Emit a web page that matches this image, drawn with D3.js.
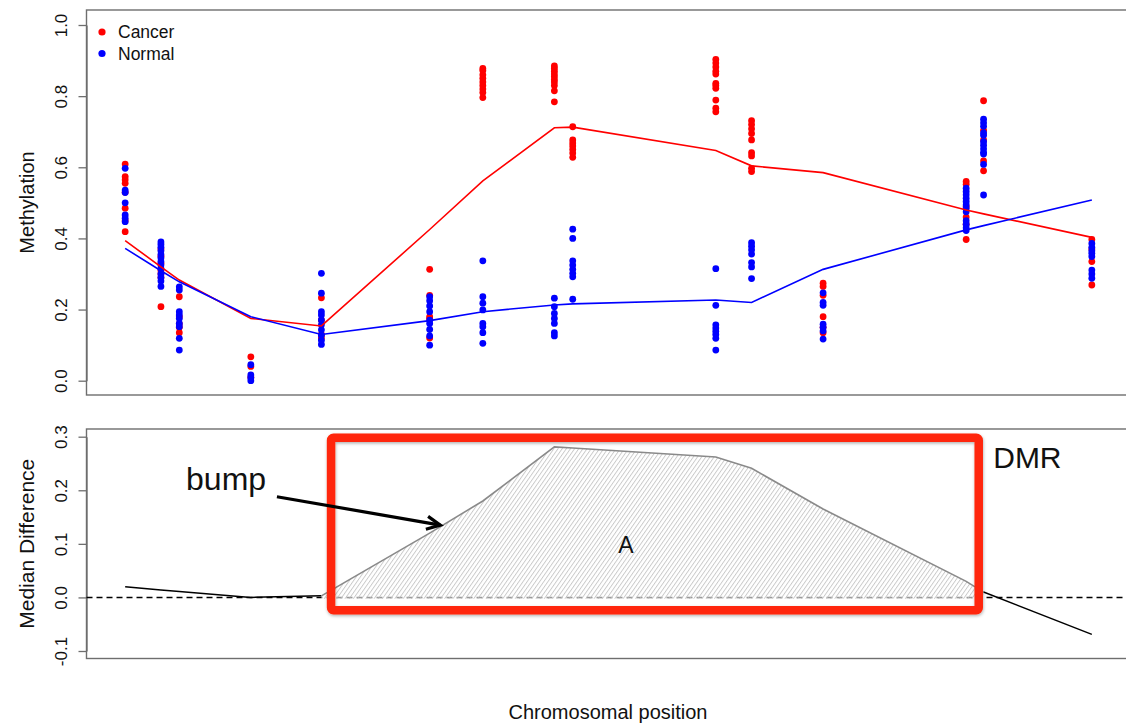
<!DOCTYPE html>
<html><head><meta charset="utf-8">
<script src="https://cdnjs.cloudflare.com/ajax/libs/d3/7.8.5/d3.min.js"></script>
<style>
html,body{margin:0;padding:0;background:#fff;}
svg{display:block;font-family:"Liberation Sans",Arial,Helvetica,sans-serif;}
</style></head><body><div id="chart"></div>
<script>
// probe positions along the chromosome (arbitrary units)
const positions=[0,37,56,130,203,315,370,444,463,611,648,722,870,888,1000];
// smoothed group medians
const cancerMedian=[0.394,0.32,0.283,0.175,0.154,0.425,0.562,0.711,0.713,0.647,0.604,0.585,0.48,0.469,0.403];
const normalMedian=[0.372,0.309,0.278,0.18,0.13,0.169,0.194,0.213,0.216,0.227,0.22,0.313,0.424,0.436,0.508];
// median difference (cancer - normal), bottom panel
const medianDiff=[0.02,0.014,0.011,0.0,0.003,0.12,0.18,0.281,0.279,0.262,0.241,0.165,0.03,0.01,-0.069];
// per-sample methylation at each probe
const cancerPoints=[
  [0.609,0.574,0.565,0.555,0.53,0.485,0.45,0.419],
  [0.37,0.35,0.33,0.31,0.30,0.29,0.208],
  [0.236,0.18,0.16,0.15,0.135],
  [0.067,0.04,0.01],
  [0.233,0.17,0.13,0.12],
  [0.313,0.24,0.18,0.175,0.12],
  [0.878,0.872,0.86,0.85,0.84,0.83,0.82,0.81,0.796],
  [0.885,0.878,0.87,0.862,0.855,0.847,0.84,0.83,0.815,0.784],
  [0.714,0.677,0.668,0.66,0.65,0.64,0.628],
  [0.903,0.893,0.882,0.87,0.862,0.836,0.83,0.822,0.789,0.766,0.756],
  [0.731,0.72,0.708,0.695,0.677,0.641,0.632,0.597,0.588],
  [0.274,0.265,0.24,0.18,0.15,0.135],
  [0.56,0.552,0.49,0.46,0.44,0.397],
  [0.787,0.704,0.677,0.618,0.59],
  [0.397,0.37,0.335,0.269]
];
const normalPoints=[
  [0.597,0.536,0.529,0.5,0.466,0.457,0.447],
  [0.39,0.383,0.375,0.365,0.355,0.345,0.335,0.325,0.315,0.30,0.29,0.28,0.265],
  [0.264,0.255,0.194,0.185,0.175,0.161,0.152,0.119,0.086],
  [0.045,0.016,0.008,0.0],
  [0.302,0.246,0.194,0.185,0.171,0.157,0.143,0.128,0.114,0.102],
  [0.236,0.225,0.21,0.194,0.17,0.161,0.144,0.126,0.1],
  [0.337,0.236,0.218,0.199,0.161,0.152,0.135,0.105],
  [0.232,0.208,0.189,0.175,0.161,0.135,0.126],
  [0.426,0.4,0.337,0.325,0.313,0.302,0.292,0.229],
  [0.315,0.212,0.157,0.148,0.139,0.13,0.119,0.086],
  [0.388,0.378,0.368,0.356,0.332,0.32,0.287],
  [0.247,0.22,0.212,0.159,0.15,0.14,0.117],
  [0.541,0.532,0.523,0.513,0.504,0.495,0.485,0.475,0.45,0.44,0.43,0.422],
  [0.735,0.725,0.715,0.697,0.69,0.672,0.662,0.652,0.642,0.637,0.608,0.522],
  [0.386,0.375,0.365,0.358,0.349,0.311,0.3,0.288]
];
const yTicksTop=[0,0.2,0.4,0.6,0.8,1.0];
const yTicksBottom=[-0.1,0,0.1,0.2,0.3];
const groups=['Cancer','Normal'];
const groupColors=['#ff0000','#0000ff'];
// annotation: DMR region (positions / median difference units)
const dmr={start:213,end:883,top:0.298,bottom:-0.024};
const bumpIdx=[4,13];

const W=1126,H=724;
const svg=d3.select('#chart').append('svg').attr('width',W).attr('height',H);
const defs=svg.append('defs');
const x=d3.scaleLinear().domain([-40,1040]).range([86.5,1130.5]);
const pTop={t:10,b:395},pBot={t:429,b:658.5};
const yT=d3.scaleLinear().domain([0,1]).range([380.7,25]);
const yB=d3.scaleLinear().domain([-0.1,0.3]).range([651,436.7]);

function frame(p){
  svg.append('rect').attr('x',x.range()[0]).attr('y',p.t).attr('width',x.range()[1]-x.range()[0]).attr('height',p.b-p.t)
    .attr('fill','none').attr('stroke','#6e6e6e').attr('stroke-width',1.4);
}
function yAxis(scale,ticks){
  const g=svg.append('g').attr('transform',`translate(${x.range()[0]},0)`)
    .call(d3.axisLeft(scale).tickValues(ticks).tickSize(8).tickSizeOuter(0).tickFormat(d=>d.toFixed(1)));
  g.selectAll('path,line').attr('stroke','#6e6e6e').attr('stroke-width',1.3);
  g.selectAll('text').attr('x',null).attr('dy',null).attr('text-anchor','middle')
    .attr('transform','translate(-20,0) rotate(-90)').attr('font-size',17).attr('fill','#111')
    .style('font-family','"Liberation Sans",Arial,sans-serif');
}
function yLabel(txt,p,size){
  svg.append('text').attr('transform',`translate(34,${(p.t+p.b)/2}) rotate(-90)`).attr('text-anchor','middle')
    .attr('font-size',size).attr('fill','#111').text(txt);
}

// ---- top panel
frame(pTop);yAxis(yT,yTicksTop);yLabel('Methylation',pTop,20);
[cancerPoints,normalPoints].forEach((pts,gi)=>{
  const flat=pts.flatMap((vals,i)=>vals.map(v=>({p:positions[i],v})));
  svg.append('g').selectAll('circle').data(flat).join('circle')
    .attr('cx',d=>x(d.p)).attr('cy',d=>yT(d.v)).attr('r',3.4).attr('fill',groupColors[gi]);
});
[cancerMedian,normalMedian].forEach((vals,gi)=>{
  svg.append('path').datum(vals).attr('fill','none').attr('stroke',groupColors[gi]).attr('stroke-width',1.6)
    .attr('d',d3.line().x((d,i)=>x(positions[i])).y(d=>yT(d)));
});
// legend
const leg=svg.append('g').attr('transform',`translate(${x.range()[0]+15.5},32)`);
groups.forEach((g,i)=>{
  leg.append('circle').attr('cx',0).attr('cy',i*21.5).attr('r',3.6).attr('fill',groupColors[i]);
  leg.append('text').attr('x',16).attr('y',i*21.5+6).attr('font-size',17.5).attr('fill','#111').text(g);
});

// ---- bottom panel
frame(pBot);yAxis(yB,yTicksBottom);yLabel('Median Difference',pBot,21);
svg.append('line').attr('x1',x.range()[0]).attr('x2',W).attr('y1',yB(0)).attr('y2',yB(0))
  .attr('stroke','#000').attr('stroke-width',1.5).attr('stroke-dasharray','6,4');
const diff=medianDiff.map((v,i)=>({p:positions[i],v,i}));
const ln=d3.line().x(d=>x(d.p)).y(d=>yB(d.v));
const bump=diff.slice(bumpIdx[0],bumpIdx[1]+1);
// hatched area under the bump (reaches just past the zero line so the dashes show grey)
const pat=defs.append('pattern').attr('id','hatch').attr('patternUnits','userSpaceOnUse')
  .attr('width',3.4).attr('height',3.4).attr('patternTransform','rotate(35)');
pat.append('rect').attr('width',3.4).attr('height',3.4).attr('fill','#fff').attr('fill-opacity',0.6);
pat.append('line').attr('x1',0.5).attr('x2',0.5).attr('y1',0).attr('y2',3.4).attr('stroke','#bcbcbc').attr('stroke-width',0.75);
svg.append('path').datum(bump).attr('fill','url(#hatch)')
  .attr('d',d3.area().x(d=>x(d.p)).y0(yB(0)+1.2).y1(d=>yB(d.v)));
svg.append('path').datum(diff.slice(0,bumpIdx[0]+1)).attr('fill','none').attr('stroke','#000').attr('stroke-width',1.5).attr('d',ln);
svg.append('path').datum(diff.slice(bumpIdx[1])).attr('fill','none').attr('stroke','#000').attr('stroke-width',1.5).attr('d',ln);
svg.append('path').datum(bump).attr('fill','none').attr('stroke','#8a8a8a').attr('stroke-width',1.6).attr('d',ln);

// DMR box
const sh=defs.append('filter').attr('id','shadow').attr('x','-5%').attr('y','-10%').attr('width','110%').attr('height','125%');
sh.append('feDropShadow').attr('dx',0.5).attr('dy',1.5).attr('stdDeviation',1.4).attr('flood-color','#000').attr('flood-opacity',0.3);
svg.append('rect').attr('x',x(dmr.start)).attr('y',yB(dmr.top)).attr('width',x(dmr.end)-x(dmr.start)).attr('height',yB(dmr.bottom)-yB(dmr.top))
  .attr('rx',2.5).attr('fill','none').attr('stroke','#ff2608').attr('stroke-width',8.5).attr('filter','url(#shadow)');
svg.append('text').attr('x',x(898)).attr('y',yB(0.242)).attr('font-size',30).attr('fill','#111').text('DMR');
svg.append('text').attr('x',x(518)).attr('y',yB(0.083)).attr('text-anchor','middle').attr('font-size',23).attr('fill','#111').text('A');

// "bump" arrow
const a0=[x(157),yB(0.188)],a1=[x(326),yB(0.135)];
const ang=Math.atan2(a1[1]-a0[1],a1[0]-a0[0]),hl=15,ha=0.45;
svg.append('text').attr('x',x(63)).attr('y',yB(0.2)).attr('font-size',32).attr('fill','#111').text('bump');
svg.append('line').attr('x1',a0[0]).attr('y1',a0[1]).attr('x2',a1[0]).attr('y2',a1[1]).attr('stroke','#000').attr('stroke-width',3.2);
svg.append('path').attr('fill','none').attr('stroke','#000').attr('stroke-width',3.2).attr('stroke-linejoin','miter')
  .attr('d',`M${a1[0]-hl*Math.cos(ang-ha)},${a1[1]-hl*Math.sin(ang-ha)}L${a1[0]},${a1[1]}L${a1[0]-hl*Math.cos(ang+ha)},${a1[1]-hl*Math.sin(ang+ha)}`);

svg.append('text').attr('x',608).attr('y',719).attr('text-anchor','middle').attr('font-size',20).attr('fill','#111').text('Chromosomal position');
</script></body></html>
